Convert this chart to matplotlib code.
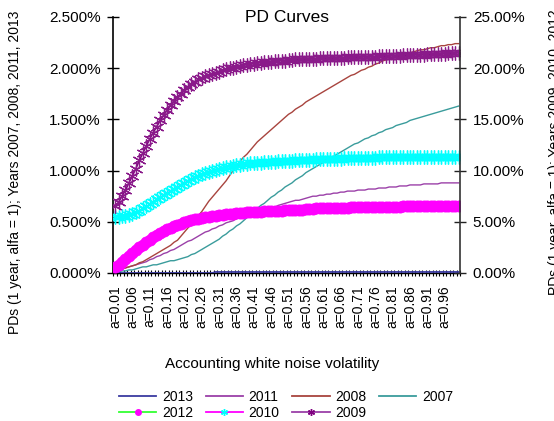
import matplotlib
matplotlib.use("Agg")
import matplotlib.pyplot as plt
from matplotlib.lines import Line2D
from matplotlib.ticker import FuncFormatter, FixedLocator

plt.rcParams['font.family'] = ['Liberation Sans', 'DejaVu Sans']
plt.rcParams['font.size'] = 10

categories = [
    "a=0.01", "a=0.02", "a=0.03", "a=0.04", "a=0.05", "a=0.06", "a=0.07", "a=0.08", "a=0.09", "a=0.10",
    "a=0.11", "a=0.12", "a=0.13", "a=0.14", "a=0.15", "a=0.16", "a=0.17", "a=0.18", "a=0.19", "a=0.20",
    "a=0.21", "a=0.22", "a=0.23", "a=0.24", "a=0.25", "a=0.26", "a=0.27", "a=0.28", "a=0.29", "a=0.30",
    "a=0.31", "a=0.32", "a=0.33", "a=0.34", "a=0.35", "a=0.36", "a=0.37", "a=0.38", "a=0.39", "a=0.40",
    "a=0.41", "a=0.42", "a=0.43", "a=0.44", "a=0.45", "a=0.46", "a=0.47", "a=0.48", "a=0.49", "a=0.50",
    "a=0.51", "a=0.52", "a=0.53", "a=0.54", "a=0.55", "a=0.56", "a=0.57", "a=0.58", "a=0.59", "a=0.60",
    "a=0.61", "a=0.62", "a=0.63", "a=0.64", "a=0.65", "a=0.66", "a=0.67", "a=0.68", "a=0.69", "a=0.70",
    "a=0.71", "a=0.72", "a=0.73", "a=0.74", "a=0.75", "a=0.76", "a=0.77", "a=0.78", "a=0.79", "a=0.80",
    "a=0.81", "a=0.82", "a=0.83", "a=0.84", "a=0.85", "a=0.86", "a=0.87", "a=0.88", "a=0.89", "a=0.90",
    "a=0.91", "a=0.92", "a=0.93", "a=0.94", "a=0.95", "a=0.96", "a=0.97", "a=0.98", "a=0.99", "a=1.00",
]

# Left axis series (PD in %)
pd_2013 = [
    0.00, 0.00, 0.00, 0.00, 0.00, 0.00, 0.00, 0.00, 0.00, 0.00,
    0.00, 0.00, 0.00, 0.00, 0.00, 0.00, 0.00, 0.00, 0.00, 0.00,
    0.00, 0.00, 0.00, 0.00, 0.00, 0.00, 0.00, 0.00, 0.00, 0.01,
    0.01, 0.01, 0.01, 0.01, 0.01, 0.01, 0.01, 0.01, 0.01, 0.01,
    0.01, 0.01, 0.01, 0.01, 0.01, 0.01, 0.01, 0.01, 0.01, 0.01,
    0.01, 0.01, 0.01, 0.01, 0.01, 0.01, 0.01, 0.01, 0.01, 0.01,
    0.01, 0.01, 0.01, 0.01, 0.01, 0.01, 0.01, 0.01, 0.01, 0.01,
    0.01, 0.01, 0.01, 0.01, 0.01, 0.01, 0.01, 0.01, 0.01, 0.01,
    0.01, 0.01, 0.01, 0.01, 0.01, 0.01, 0.01, 0.01, 0.01, 0.01,
    0.01, 0.01, 0.01, 0.01, 0.01, 0.01, 0.01, 0.01, 0.01, 0.01,
]
pd_2011 = [
    0.02, 0.03, 0.04, 0.05, 0.06, 0.07, 0.08, 0.09, 0.10, 0.11,
    0.13, 0.14, 0.16, 0.17, 0.19, 0.20, 0.22, 0.23, 0.25, 0.27,
    0.29, 0.31, 0.32, 0.34, 0.36, 0.38, 0.40, 0.41, 0.43, 0.44,
    0.46, 0.47, 0.49, 0.50, 0.51, 0.53, 0.54, 0.55, 0.56, 0.57,
    0.58, 0.59, 0.60, 0.61, 0.62, 0.63, 0.64, 0.66, 0.67, 0.68,
    0.69, 0.70, 0.71, 0.71, 0.72, 0.73, 0.74, 0.75, 0.75, 0.76,
    0.76, 0.77, 0.77, 0.78, 0.78, 0.79, 0.79, 0.80, 0.80, 0.80,
    0.81, 0.81, 0.81, 0.82, 0.82, 0.82, 0.83, 0.83, 0.83, 0.84,
    0.84, 0.84, 0.85, 0.85, 0.85, 0.86, 0.86, 0.86, 0.86, 0.87,
    0.87, 0.87, 0.87, 0.87, 0.88, 0.88, 0.88, 0.88, 0.88, 0.88,
]
pd_2008 = [
    0.02, 0.03, 0.04, 0.05, 0.06, 0.07, 0.08, 0.10, 0.11, 0.13,
    0.15, 0.17, 0.19, 0.21, 0.23, 0.25, 0.27, 0.30, 0.32, 0.36,
    0.40, 0.44, 0.48, 0.52, 0.56, 0.60, 0.65, 0.70, 0.74, 0.78,
    0.82, 0.86, 0.90, 0.95, 1.00, 1.04, 1.09, 1.13, 1.16, 1.20,
    1.24, 1.28, 1.31, 1.34, 1.37, 1.40, 1.43, 1.46, 1.49, 1.52,
    1.55, 1.57, 1.60, 1.62, 1.64, 1.67, 1.69, 1.71, 1.73, 1.75,
    1.77, 1.79, 1.81, 1.83, 1.85, 1.87, 1.89, 1.91, 1.93, 1.94,
    1.96, 1.98, 1.99, 2.01, 2.02, 2.04, 2.05, 2.07, 2.08, 2.09,
    2.10, 2.11, 2.12, 2.13, 2.14, 2.15, 2.16, 2.17, 2.18, 2.18,
    2.19, 2.20, 2.20, 2.21, 2.22, 2.22, 2.23, 2.23, 2.24, 2.24,
]
pd_2007 = [
    0.01, 0.01, 0.02, 0.02, 0.03, 0.03, 0.04, 0.05, 0.06, 0.06,
    0.07, 0.08, 0.08, 0.09, 0.10, 0.11, 0.12, 0.12, 0.13, 0.14,
    0.15, 0.16, 0.18, 0.19, 0.21, 0.23, 0.25, 0.27, 0.29, 0.31,
    0.33, 0.36, 0.38, 0.41, 0.43, 0.46, 0.48, 0.51, 0.54, 0.57,
    0.60, 0.63, 0.66, 0.68, 0.71, 0.74, 0.76, 0.79, 0.81, 0.84,
    0.86, 0.88, 0.91, 0.93, 0.95, 0.98, 1.00, 1.02, 1.04, 1.06,
    1.08, 1.10, 1.12, 1.14, 1.16, 1.18, 1.20, 1.22, 1.24, 1.26,
    1.27, 1.29, 1.31, 1.32, 1.34, 1.35, 1.37, 1.38, 1.40, 1.41,
    1.42, 1.44, 1.45, 1.46, 1.47, 1.49, 1.50, 1.51, 1.52, 1.53,
    1.54, 1.55, 1.56, 1.57, 1.58, 1.59, 1.60, 1.61, 1.62, 1.63,
]

# Right axis series (PD in %)
pd_2012 = [
    0.6, 0.8, 1.1, 1.4, 1.7, 2.0, 2.2, 2.5, 2.7, 3.0,
    3.2, 3.5, 3.7, 3.9, 4.1, 4.3, 4.4, 4.6, 4.7, 4.8,
    4.95, 5.05, 5.15, 5.25, 5.3, 5.4, 5.45, 5.5, 5.55, 5.6,
    5.65, 5.7, 5.75, 5.8, 5.8, 5.85, 5.9, 5.9, 5.95, 5.95,
    6.0, 6.0, 6.0, 6.05, 6.05, 6.05, 6.1, 6.1, 6.1, 6.15,
    6.15, 6.15, 6.2, 6.2, 6.2, 6.25, 6.25, 6.25, 6.3, 6.3,
    6.3, 6.3, 6.3, 6.35, 6.35, 6.35, 6.35, 6.35, 6.4, 6.4,
    6.4, 6.4, 6.4, 6.4, 6.4, 6.45, 6.45, 6.45, 6.45, 6.45,
    6.45, 6.45, 6.45, 6.5, 6.5, 6.5, 6.5, 6.5, 6.5, 6.5,
    6.5, 6.5, 6.5, 6.55, 6.55, 6.55, 6.55, 6.55, 6.55, 6.55,
]
pd_2010 = [
    5.5, 5.5, 5.55, 5.6, 5.7, 5.8, 5.95, 6.1, 6.3, 6.5,
    6.7, 6.95, 7.2, 7.4, 7.6, 7.8, 8.0, 8.2, 8.4, 8.6,
    8.8, 9.0, 9.2, 9.35, 9.5, 9.65, 9.8, 9.9, 10.0, 10.1,
    10.2, 10.3, 10.35, 10.4, 10.45, 10.5, 10.55, 10.6, 10.65, 10.7,
    10.7, 10.75, 10.75, 10.8, 10.8, 10.85, 10.85, 10.9, 10.9, 10.9,
    10.95, 10.95, 11.0, 11.0, 11.0, 11.05, 11.05, 11.05, 11.1, 11.1,
    11.1, 11.1, 11.15, 11.15, 11.15, 11.15, 11.2, 11.2, 11.2, 11.2,
    11.2, 11.25, 11.25, 11.25, 11.25, 11.25, 11.3, 11.3, 11.3, 11.3,
    11.3, 11.3, 11.3, 11.3, 11.3, 11.3, 11.3, 11.3, 11.3, 11.3,
    11.3, 11.3, 11.3, 11.3, 11.35, 11.35, 11.35, 11.35, 11.35, 11.35,
]
pd_2009 = [
    6.5, 6.9, 7.5, 8.1, 8.8, 9.5, 10.2, 11.0, 11.7, 12.4,
    13.1, 13.7, 14.3, 14.9, 15.4, 15.9, 16.4, 16.8, 17.2, 17.5,
    17.9, 18.2, 18.5, 18.7, 18.9, 19.0, 19.2, 19.3, 19.4, 19.5,
    19.65, 19.8, 19.9, 20.0, 20.05, 20.15, 20.2, 20.3, 20.35, 20.4,
    20.45, 20.5, 20.55, 20.6, 20.6, 20.65, 20.7, 20.7, 20.75, 20.75,
    20.8, 20.8, 20.85, 20.85, 20.85, 20.9, 20.9, 20.9, 20.9, 20.95,
    20.95, 20.95, 20.95, 21.0, 21.0, 21.0, 21.0, 21.05, 21.05, 21.05,
    21.05, 21.1, 21.1, 21.1, 21.1, 21.1, 21.15, 21.15, 21.15, 21.2,
    21.2, 21.2, 21.2, 21.25, 21.25, 21.25, 21.3, 21.3, 21.3, 21.3,
    21.35, 21.35, 21.35, 21.4, 21.4, 21.4, 21.45, 21.45, 21.5, 21.5,
]

label_every = 5
left_ticks = [0.0, 0.5, 1.0, 1.5, 2.0, 2.5]
right_ticks = [0, 5, 10, 15, 20, 25]

W, H = 554, 421
fig = plt.figure(figsize=(W / 100, H / 100), dpi=100)
x0, x1, y0, y1 = 113.3, 460.3, 17, 273
ax = fig.add_axes([x0 / W, 1 - y1 / H, (x1 - x0) / W, (y1 - y0) / H])
ax2 = ax.twinx()

xs = list(range(len(categories)))

star = (6, 2, 0)
ax.plot(xs, pd_2013, color='#3A3AA0', lw=1.3, zorder=3)
ax.plot(xs, pd_2011, color='#9B40A8', lw=1.0)
ax.plot(xs, pd_2008, color='#A8443E', lw=1.0)
ax.plot(xs, pd_2007, color='#3A9C9C', lw=1.0)

ax2.plot(xs, pd_2012, color='#33FF33', lw=1.0, marker='o', markersize=8,
         markerfacecolor='#FF00FF', markeredgecolor='#FF00FF', markeredgewidth=0.6)
ax2.plot(xs, pd_2010, color='#FF00FF', lw=1.0, marker=star, markersize=10,
         markerfacecolor='#00FFFF', markeredgecolor='#00FFFF', markeredgewidth=1.0)
ax2.plot(xs, pd_2009, color='#800080', lw=1.2, marker=star, markersize=10,
         markerfacecolor='#800080', markeredgecolor='#8A1A8A', markeredgewidth=0.9)

ax.set_xlim(-0.5, len(categories) - 0.5)
ax.set_ylim(0, 2.5)
ax2.set_ylim(0, 25)

ax.yaxis.set_major_locator(FixedLocator(left_ticks))
ax.yaxis.set_major_formatter(FuncFormatter(lambda v, p: f"{v:.3f}%"))
ax2.yaxis.set_major_locator(FixedLocator(right_ticks))
ax2.yaxis.set_major_formatter(FuncFormatter(lambda v, p: f"{v:.2f}%"))

lab_pos = xs[::label_every]
ax.set_xticks(lab_pos)
ax.set_xticklabels(categories[::label_every], rotation=90, va='top', ha='center')
ax.set_xticks([i - 0.5 for i in range(len(categories) + 1)], minor=True)
ax.tick_params(axis='x', which='major', length=0, pad=9, labelsize=10)
ax.tick_params(axis='x', which='minor', direction='inout', length=5, width=0.8)

ax.tick_params(axis='y', direction='inout', length=8, width=1, pad=5, labelsize=11)
ax2.tick_params(axis='y', direction='inout', length=8, width=1, pad=5, labelsize=11,
                color='#222222')

for a in (ax, ax2):
    a.spines['top'].set_visible(False)
ax.spines['right'].set_visible(False)
ax2.spines['left'].set_visible(False)
ax2.spines['bottom'].set_visible(False)
ax.spines['left'].set_linewidth(1.2)
ax.spines['bottom'].set_linewidth(1.0)
ax2.spines['right'].set_linewidth(1.2)
ax2.spines['right'].set_color('#333333')

fig.text(287 / W, 1 - 17 / H, "PD Curves", ha='center', va='center', fontsize=12.5)
fig.text(272 / W, 1 - 364 / H, "Accounting white noise volatility", ha='center',
         va='center', fontsize=11)
fig.text(15 / W, 1 - 172 / H, "PDs (1 year, alfa = 1); Years 2007, 2008, 2011, 2013",
         rotation=90, ha='center', va='center', fontsize=10)
fig.text(555 / W, 1 - 152 / H, "PDs (1 year, alfa = 1); Years 2009, 2010, 2012",
         rotation=90, ha='center', va='center', fontsize=10)

handles = [
    Line2D([], [], color='#3A3AA0', lw=1.3),
    Line2D([], [], color='#33FF33', lw=1.3, marker='o', markersize=4,
           markerfacecolor='#FF00FF', markeredgecolor='#FF00FF'),
    Line2D([], [], color='#9B40A8', lw=1.3),
    Line2D([], [], color='#FF00FF', lw=1.3, marker=star, markersize=5,
           markerfacecolor='#00FFFF', markeredgecolor='#00FFFF'),
    Line2D([], [], color='#A8443E', lw=1.3),
    Line2D([], [], color='#9B40A8', lw=1.3, marker=star, markersize=5,
           markerfacecolor='#800080', markeredgecolor='#800080'),
    Line2D([], [], color='#3A9C9C', lw=1.3),
]
labels = ["2013", "2012", "2011", "2010", "2008", "2009", "2007"]
fig.legend(handles, labels, ncol=4, loc='center', bbox_to_anchor=(286 / W, 1 - 405 / H),
           frameon=False, fontsize=10, handlelength=2.7, handletextpad=0.4,
           columnspacing=0.9, labelspacing=0.15, numpoints=1, borderpad=0)

fig.savefig("out.png", dpi=100)
